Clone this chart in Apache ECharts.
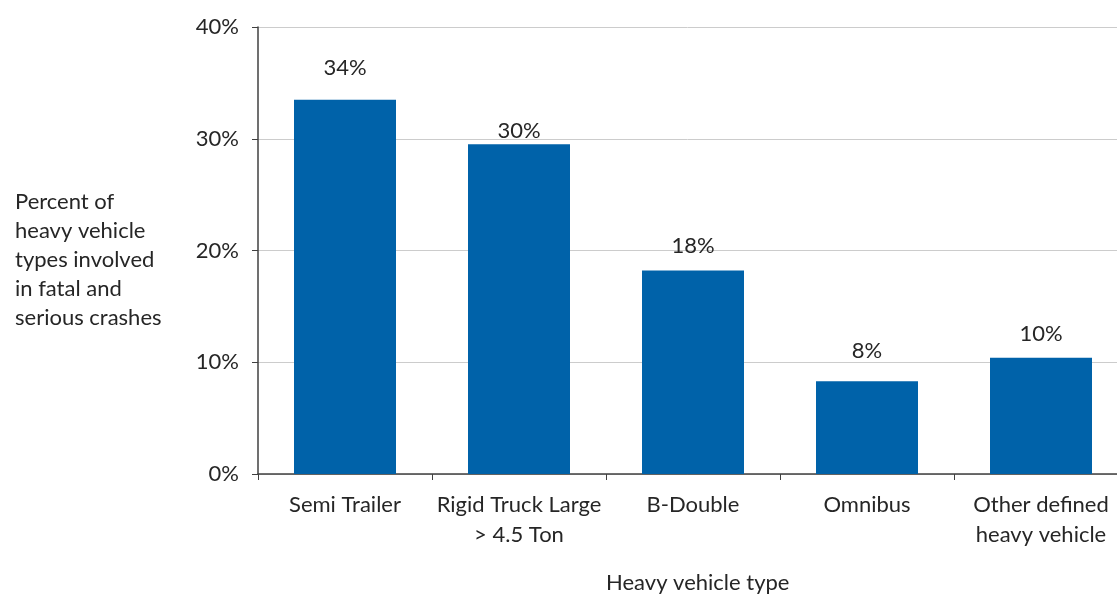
<!DOCTYPE html>
<html>
<head>
<meta charset="utf-8">
<title>Heavy vehicle types</title>
<script src="https://cdn.jsdelivr.net/npm/echarts@6/dist/echarts.min.js"></script>
<style>
html, body { margin: 0; padding: 0; background: #fff; }
#chart { width: 1117px; height: 596px; }
</style>
</head>
<body>
<div id="chart"></div>
<script>
// data
var categories = ['Semi Trailer', 'Rigid Truck Large\n> 4.5 Ton', 'B-Double', 'Omnibus', 'Other defined\nheavy vehicle'];
var shares = [33.5, 29.5, 18.2, 8.3, 10.4];
var yTicks = [0, 10, 20, 30, 40];

// gap between bar top and its label, as drawn in the original
var labelLift = [21, 2, 14, 19, 13];

var textColor = '#262626';
var font = 'Lato, "Open Sans", sans-serif';

// the original plot runs past the right edge of the picture:
// each category is 174px wide but only 859px of plot is visible
var gridLeft = 258;
var bandPx = 174;
var xMax = -0.5 + (1117 - gridLeft) / bandPx;

var chart = echarts.init(document.getElementById('chart'), null, { renderer: 'canvas' });

var option = {
	animation: false,
	title: [{
		text: 'Percent of\nheavy vehicle\ntypes involved\nin fatal and\nserious crashes',
		left: 10,
		top: 182,
		textStyle: { fontSize: 22, fontWeight: 'normal', color: textColor, fontFamily: font, lineHeight: 29 }
	}, {
		text: 'Heavy vehicle type',
		left: 601,
		top: 567,
		textStyle: { fontSize: 22, fontWeight: 'normal', color: textColor, fontFamily: font }
	}],
	grid: { left: gridLeft, right: 0, top: 27, bottom: 122 },
	xAxis: {
		type: 'value',
		min: -0.5,
		max: xMax,
		splitLine: { show: false },
		axisLine: { onZero: false, lineStyle: { color: '#404040', width: 1.5 } },
		axisTick: {
			show: true, length: 6, lineStyle: { color: '#404040' },
			customValues: categories.map(function (c, i) { return i - 0.5; })
		},
		axisLabel: {
			color: textColor, fontSize: 22, fontFamily: font, lineHeight: 30, margin: 16,
			customValues: categories.map(function (c, i) { return i; }),
			formatter: function (v) { return categories[Math.round(v)] || ''; }
		}
	},
	yAxis: {
		type: 'value',
		min: yTicks[0],
		max: yTicks[yTicks.length - 1],
		interval: 10,
		axisLine: { show: true, onZero: false, lineStyle: { color: '#404040', width: 1.5 } },
		axisTick: { show: true, length: 6, lineStyle: { color: '#404040' } },
		axisLabel: { color: textColor, fontSize: 22, fontFamily: font, margin: 19, formatter: '{value}%' },
		splitLine: { show: true, lineStyle: { color: '#cccccc', width: 1 } }
	},
	series: [{
		type: 'bar',
		barWidth: 102,
		itemStyle: { color: '#0062a9' },
		data: shares.map(function (v, i) {
			return {
				value: [i, v],
				label: { distance: labelLift[i] }
			};
		}),
		label: {
			show: true,
			position: 'top',
			color: textColor,
			fontSize: 22,
			fontFamily: font,
			formatter: function (p) { return Math.round(p.value[1]) + '%'; }
		}
	}]
};

chart.setOption(option);
window.addEventListener('resize', chart.resize);
</script>
</body>
</html>
